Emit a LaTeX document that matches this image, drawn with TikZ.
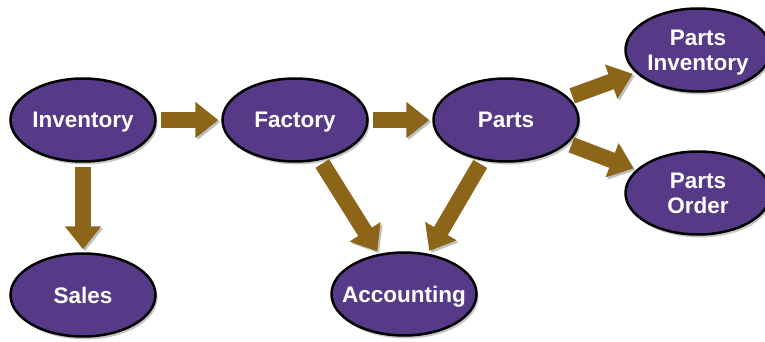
\documentclass[tikz,border=0pt]{standalone}
\usepackage{fontspec}
\setmainfont{Liberation Sans}
\usetikzlibrary{shapes.geometric,arrows.meta,shadows}
\definecolor{ovalfill}{RGB}{86,58,135}
\definecolor{arrowbrown}{RGB}{140,101,24}
\tikzset{
  oval/.style={ellipse, draw=black, line width=2.5pt, fill=ovalfill,
    minimum width=145pt, minimum height=83pt, inner ysep=0pt, inner xsep=-14pt,
    text depth=0pt,
    text=white, font=\bfseries\fontsize{22.5}{25}\selectfont, align=center,
    drop shadow={opacity=0.45, shadow xshift=2pt, shadow yshift=-3pt}},
  flow/.style={draw=arrowbrown, line width=16pt,
    -{Triangle[width=35pt,length=23pt]},
    shorten <=4pt, shorten >=3pt,
    preaction={draw=black, opacity=0.25, transform canvas={xshift=2pt,yshift=-2pt}}}
}
\begin{document}
\begin{tikzpicture}[x=1pt,y=-1pt]
\useasboundingbox (0,0) rectangle (765,342);
\node[oval] (inv) at (83,120) {Inventory};
\node[oval] (fac) at (295,120) {Factory};
\node[oval] (parts) at (506,120) {Parts};
\node[oval] (pinv) at (698,50) {Parts\\Inventory};
\node[oval] (pord) at (698,193) {Parts\\Order};
\node[oval] (sales) at (83,295) {Sales};
\node[oval] (acc) at (404,294) {Accounting};
\draw[flow] (inv) -- (fac);
\draw[flow] (fac) -- (parts);
\draw[flow] (inv) -- (sales);
\draw[flow] (fac) -- (acc);
\draw[flow] (parts) -- (acc);
\draw[flow] (parts) -- (pinv);
\draw[flow] (parts) -- (pord);
\end{tikzpicture}
\end{document}
